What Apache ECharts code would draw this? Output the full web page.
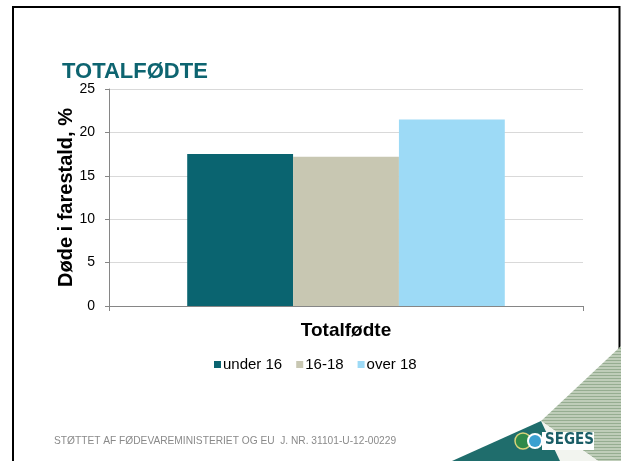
<!DOCTYPE html>
<html>
<head>
<meta charset="utf-8">
<script src="https://cdn.jsdelivr.net/npm/echarts@6/dist/echarts.min.js"></script>
<style>
html,body{margin:0;padding:0;background:#fff;}
#main{width:621px;height:461px;}
</style>
</head>
<body>
<div id="main"></div>
<script>
// ---- data ----
var categories = ['Totalfødte'];
var seriesNames = ['under 16', '16-18', 'over 18'];
var under16 = [17.5];
var s16to18 = [17.2];
var over18 = [21.5];
var yTicks = [0, 5, 10, 15, 20, 25];

var colors = ['#0a6470', '#c8c7b2', '#9ddaf6'];
var font = '"Liberation Sans", Arial, sans-serif';

var chart = echarts.init(document.getElementById('main'), null, {renderer: 'canvas'});

// stripe pattern for logo
var pc = document.createElement('canvas');
pc.width = 4; pc.height = 3;
var pctx = pc.getContext('2d');
pctx.fillStyle = '#bfcdb9'; pctx.fillRect(0, 0, 4, 3);
pctx.fillStyle = '#96ad91'; pctx.fillRect(0, 0, 4, 1);

var seriesData = [under16, s16to18, over18];
var series = seriesNames.map(function (n, i) {
  return {
    name: n,
    type: 'bar',
    data: seriesData[i],
    barGap: '0%',
    barCategoryGap: '33%',
    itemStyle: {color: colors[i]},
    emphasis: {disabled: true}
  };
});

chart.setOption({
  animation: false,
  textStyle: {fontFamily: font},
  title: {
    text: 'TOTALFØDTE',
    left: 57, top: 56,
    textStyle: {fontFamily: font, fontSize: 22, fontWeight: 'bold', color: '#0d6470'}
  },
  legend: {
    data: seriesNames,
    left: 209, top: 352,
    icon: 'rect',
    itemWidth: 7, itemHeight: 7,
    itemGap: 14,
    textStyle: {fontFamily: font, fontSize: 15, color: '#000', padding: [0, 0, 0, -3]}
  },
  grid: {left: 109, right: 38, top: 89, bottom: 155, containLabel: false},
  xAxis: {
    type: 'category',
    data: categories,
    axisLine: {lineStyle: {color: '#868686', width: 1}},
    axisTick: {show: true, length: 5, lineStyle: {color: '#868686'}},
    axisLabel: {margin: 15, fontFamily: font, fontSize: 19, fontWeight: 'bold', color: '#000'}
  },
  yAxis: {
    type: 'value',
    min: yTicks[0], max: yTicks[yTicks.length - 1], interval: 5,
    name: 'Døde i farestald, %',
    nameLocation: 'middle',
    nameRotate: 90,
    nameGap: 33,
    nameMoveOverlap: false,
    nameTextStyle: {fontFamily: font, fontSize: 20, fontWeight: 'bold', color: '#000'},
    axisLine: {show: true, lineStyle: {color: '#868686'}},
    axisTick: {show: true, length: 4, lineStyle: {color: '#868686'}},
    axisLabel: {margin: 14, fontFamily: font, fontSize: 14, color: '#000'},
    splitLine: {lineStyle: {color: '#d9d9d9', width: 1}}
  },
  series: series,
  graphic: [
    {type: 'rect', shape: {x: 13, y: 7, width: 606.5, height: 470}, style: {fill: 'none', stroke: '#000', lineWidth: 2}, z: 0},
    {type: 'text', left: 54, top: 436, style: {text: 'STØTTET AF FØDEVAREMINISTERIET OG EU  J. NR. 31101-U-12-00229', font: '10.2px ' + font, fill: '#8a8a8a'}},
    {type: 'polygon', shape: {points: [[541, 421], [621, 346], [621, 461], [598, 461]]}, style: {fill: {image: pc, repeat: 'repeat'}}, z: 10},
    {type: 'polygon', shape: {points: [[541, 421], [598, 461], [560, 461]]}, style: {fill: '#f2f4ef'}, z: 10},
    {type: 'polygon', shape: {points: [[452, 461], [541, 421], [560, 461]]}, style: {fill: '#1f6d6c'}, z: 10},
    {type: 'rect', shape: {x: 542, y: 432, width: 52, height: 18}, style: {fill: '#ffffff'}, z: 10},
    {type: 'circle', shape: {cx: 523, cy: 441, r: 8}, style: {fill: '#2f8a4a', stroke: '#d9d37a', lineWidth: 1.5}, z: 11},
    {type: 'circle', shape: {cx: 535, cy: 441, r: 8}, style: {fill: '#ffffff'}, z: 11},
    {type: 'circle', shape: {cx: 535, cy: 441, r: 6}, style: {fill: '#3aa0d0'}, z: 12},
    {type: 'text', left: 545, top: 433, style: {text: 'SEGES', font: 'bold 15px "Liberation Sans Narrow", "DejaVu Sans Condensed", ' + font, fill: '#1a5d66'}, z: 12}
  ]
});
</script>
</body>
</html>
